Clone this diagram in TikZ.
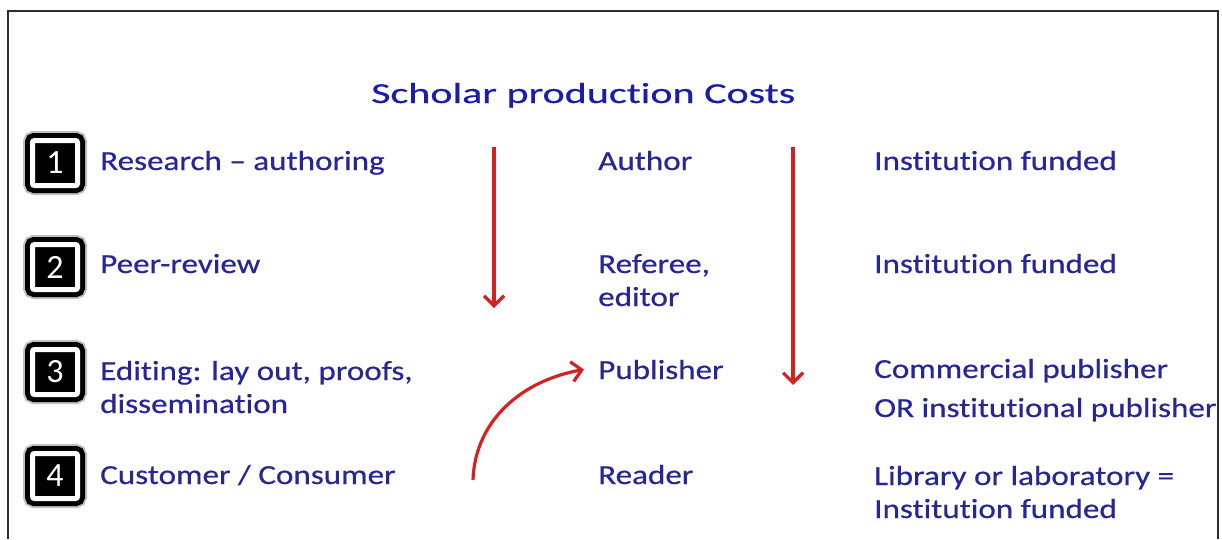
\documentclass[tikz,border=0pt]{standalone}
\usepackage{fontspec}
\setmainfont{Carlito}[FakeStretch=1.2, FakeBold=0.5, RawFeature={-liga;-clig;-calt}]
\newfontfamily\titlefont{Carlito}[FakeStretch=1.45, FakeBold=0.6, RawFeature={-liga;-clig;-calt}]
\newfontfamily\digitfont{Carlito}
\usetikzlibrary{arrows.meta}
\definecolor{inkblue}{RGB}{38,38,150}
\definecolor{titleblue}{RGB}{28,28,170}
\definecolor{flowred}{RGB}{212,34,34}
\definecolor{framegray}{RGB}{45,45,45}
\newcommand{\costText}{\fontsize{27.6}{33}\selectfont}

\begin{document}
\begin{tikzpicture}[x=1pt,y=-1pt,
  label/.style={anchor=base west, inner sep=0pt, align=left, text=inkblue, font=\costText},
  numbox/.style={fill=black, text=white, minimum size=45pt, inner sep=0pt, rounded corners=2pt,
    draw=white, line width=5pt, font=\digitfont\fontsize{34}{34}\selectfont,
    preaction={draw=black, opacity=0.25, line width=19pt},
    preaction={draw=black, line width=15pt}},
  flow/.style={draw=flowred, line width=3.2pt, -{Straight Barb[length=10pt, width=20pt, line width=3.2pt]}}]
\useasboundingbox (0,0) rectangle (1222,539);
\draw[framegray, line width=2pt] (8,539) -- (8,11) -- (1218,11) -- (1218,539);
\node[anchor=base west, inner sep=0pt, text=titleblue, font=\titlefont\fontsize{29}{29}\selectfont] (title) at (371,103) {Scholar production Costs};
% numbered steps
\node[numbox] (box1) at (55,163) {1};
\node[numbox] (box2) at (55,267) {2};
\node[numbox] (box3) at (55,372) {3};
\node[numbox] (box4) at (55,476) {4};
% tasks (multi-line nodes sit on their last line)
\node[label] (task1) at (100,170) {Research -- authoring};
\node[label] (task2) at (100,273) {Peer-review};
\node[label] (task3) at (100,413) {Editing: lay out, proofs,\\dissemination};
\node[label] (task4) at (100,484) {Customer / Consumer};
% roles
\node[label] (role1) at (598,170) {Author};
\node[label] (role2) at (598,306) {Referee,\\editor};
\node[label] (role3) at (598,379) {Publisher};
\node[label] (role4) at (598,484) {Reader};
% funding
\node[label] (fund1) at (874,170) {Institution funded};
\node[label] (fund2) at (874,273) {Institution funded};
\node[label] (fund3) at (874,417) {Commercial publisher\\[6pt]OR institutional publisher};
\node[label] (fund4) at (874,518) {Library or laboratory =\\Institution funded};
% arrows
\coordinate (a1top) at (494,147);
\coordinate (a1end) at (494,308);
\coordinate (a2top) at (793,147);
\coordinate (a2end) at (793,385);
\coordinate (backfrom) at (473,480);
\draw[flow] (a1top) -- (a1end);
\draw[flow] (a2top) -- (a2end);
\draw[flow] (backfrom) to[out=88, in=190] ([xshift=-14pt]role3.west);
\end{tikzpicture}
\end{document}
